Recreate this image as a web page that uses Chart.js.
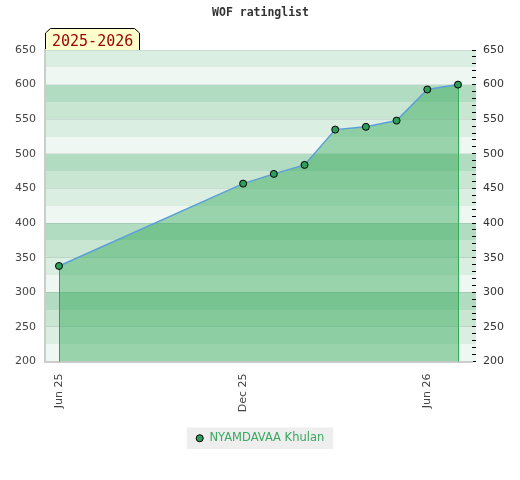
<!DOCTYPE html>
<html><head><meta charset="utf-8">
<script src="https://cdn.jsdelivr.net/npm/chart.js@4.4.1/dist/chart.umd.min.js"></script>
<style>html,body{margin:0;padding:0;background:#fff}#wrap{width:520px;height:480px;position:relative}</style>
</head><body><div id="wrap"><canvas id="c" width="520" height="480"></canvas></div>
<script>
// ---- data ----
const playerName = 'NYAMDAVAA Khulan';
const chartTitle = 'WOF ratinglist';
const periodLabel = '2025-2026';
const ratingDates = ['2025-06','2025-12','2026-01','2026-02','2026-03','2026-04','2026-05','2026-06','2026-07'];
const ratings = [338, 457, 471, 484, 535, 539, 548, 593, 600];
const tickDates = ['2025-06','2025-12','2026-06'];
const tickLabels = ['Jun 25','Dec 25','Jun 26'];
const yMin = 200, yMax = 650, yStep = 50;

// month index relative to first month
const base = ratingDates[0].split('-').map(Number);
function monthIndex(s){ const [y,m]=s.split('-').map(Number); return (y-base[0])*12+(m-base[1]); }
const points = ratingDates.map((d,i)=>({x:monthIndex(d), y:ratings[i]}));
const tickVals = tickDates.map(monthIndex);

const bandColors = ['#eef7f1','#dbeee2','#c8e6d2','#b2dcc2']; // from bottom band upward, repeating

const bgPlugin = {
  id:'bg',
  beforeDraw(chart){
    const {ctx, chartArea:a, scales} = chart;
    const ys = scales.y;
    ctx.save();
    // bands
    for (let v = yMin; v < yMax; v += 25){
      const idx = ((v - yMin)/25) % 4;
      const t = Math.round(ys.getPixelForValue(v+25)), b = Math.round(ys.getPixelForValue(v));
      ctx.fillStyle = bandColors[idx];
      ctx.fillRect(a.left, t, a.right + 4 - a.left, b - t);
    }
    // title
    ctx.font = 'bold 11.5px "DejaVu Sans Mono"';
    ctx.fillStyle = '#333';
    ctx.textAlign = 'center';
    ctx.textBaseline = 'middle';
    ctx.fillText(chartTitle, 260.5, 13.5);
    // period label box
    const L = a.left, R = a.left + 95, T = a.top - 22, B = a.top;
    ctx.beginPath();
    ctx.moveTo(L+0.5, B);
    ctx.lineTo(L+0.5, T+5);
    ctx.lineTo(L+5.5, T+0.5);
    ctx.lineTo(R-5.5, T+0.5);
    ctx.lineTo(R-0.5, T+5);
    ctx.lineTo(R-0.5, B);
    ctx.fillStyle = '#ffffcc';
    ctx.fill();
    ctx.strokeStyle = '#000';
    ctx.lineWidth = 1;
    ctx.stroke();
    ctx.font = '15px "DejaVu Sans Mono"';
    ctx.fillStyle = '#990000';
    ctx.textAlign = 'left';
    ctx.textBaseline = 'alphabetic';
    ctx.fillText(periodLabel, L + 7, B - 4);
    // legend background
    const lg = chart.legend;
    if (lg && lg.legendHitBoxes && lg.legendHitBoxes[0]){
      const h = lg.legendHitBoxes[0];
      ctx.fillStyle = '#eeeeee';
      ctx.fillRect(h.left - 9, h.top - 5, h.width + 18, h.height + 10);
    }
    ctx.restore();
  },
  beforeDatasetsDraw(chart){
    const {ctx, scales} = chart;
    const xs = scales.x, ys = scales.y;
    ctx.save();
    ctx.lineWidth = 1;
    const first = points[0], last = points[points.length-1];
    [[first,'#3a9a5c'],[last,'#33aa55']].forEach(([p,c])=>{
      const x = Math.round(xs.getPixelForValue(p.x)) + 0.5;
      ctx.strokeStyle = c;
      ctx.beginPath();
      ctx.moveTo(x, ys.getPixelForValue(p.y));
      ctx.lineTo(x, ys.getPixelForValue(yMin));
      ctx.stroke();
    });
    ctx.restore();
  }
};

new Chart(document.getElementById('c'), {
  type:'line',
  data:{datasets:[{
    label: playerName,
    data: points,
    borderColor:'#5c9fd8',
    borderWidth:1.5,
    backgroundColor:'rgba(49,167,87,0.45)',
    fill:'start',
    tension:0,
    pointRadius:3.5,
    pointHoverRadius:3.5,
    pointBackgroundColor:'#2e9e5b',
    pointBorderColor:'#000',
    pointBorderWidth:1
  }]},
  options:{
    responsive:false,
    animation:false,
    devicePixelRatio:1,
    layout:{padding:{top:50, left:0, right:0, bottom:26}},
    plugins:{
      title:{display:false},
      tooltip:{enabled:false},
      legend:{
        display:true,
        position:'bottom',
        labels:{
          usePointStyle:true,
          boxWidth:8,
          boxHeight:5,
          padding:10,
          color:'#3aa860',
          font:{family:'DejaVu Sans', size:11.5},
          generateLabels(chart){
            return chart.data.datasets.map((ds,i)=>({
              text: ds.label, fillStyle:'#2e9e5b', strokeStyle:'#000', lineWidth:1,
              pointStyle:'circle', hidden:false, datasetIndex:i, fontColor:'#3aa860'
            }));
          }
        }
      }
    },
    scales:{
      x:{
        type:'linear',
        min:-0.456,
        max:13.457,
        afterBuildTicks(s){ s.ticks = tickVals.map(v=>({value:v})); },
        afterFit(s){ s.height = 61; },
        ticks:{
          autoSkip:false,
          minRotation:90, maxRotation:90,
          padding:12,
          color:'#444',
          font:{family:'DejaVu Sans', size:11},
          callback(v){ const i = tickVals.indexOf(v); return i>=0 ? tickLabels[i] : ''; }
        },
        grid:{drawOnChartArea:false, drawTicks:false},
        border:{color:'#cccccc', width:2}
      },
      y:{
        position:'left',
        min:yMin, max:yMax,
        afterFit(s){ s.width = 45; },
        ticks:{stepSize:yStep, padding:9, color:'#444', font:{family:'DejaVu Sans', size:11}},
        grid:{color:'rgba(0,0,0,0.07)', drawTicks:false},
        border:{color:'#cccccc', width:2}
      },
      y2:{
        position:'right',
        min:yMin, max:yMax,
        afterFit(s){ s.width = 48; },
        ticks:{
          stepSize:10, autoSkip:false, padding:7, color:'#333',
          font:{family:'DejaVu Sans', size:11},
          callback(v){ return v % yStep === 0 ? String(v) : ''; }
        },
        grid:{drawOnChartArea:false, drawTicks:true, tickLength:4, color:'#000', lineWidth:1},
        border:{display:false}
      }
    }
  },
  plugins:[bgPlugin]
});
</script>
</body></html>
